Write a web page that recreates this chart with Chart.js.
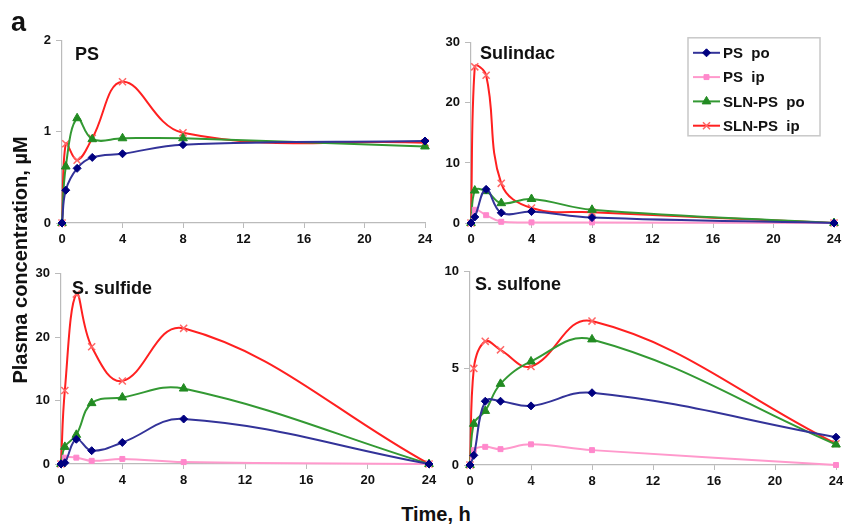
<!DOCTYPE html>
<html>
<head>
<meta charset="utf-8">
<script src="https://cdn.jsdelivr.net/npm/chart.js@4.4.1/dist/chart.umd.min.js"></script>
<style>
  body { margin: 0; background: #fff; }
  #wrap { position: relative; width: 847px; height: 524px; overflow: hidden;
          font-family: "Liberation Sans", Arial, sans-serif; color: #111; }
  #wrap canvas { position: absolute; }
  .lbl { position: absolute; font-weight: bold; white-space: nowrap; line-height: 1; }
</style>
</head>
<body>
<div id="wrap">
  <canvas id="cPS"></canvas>
  <canvas id="cSul"></canvas>
  <canvas id="cSfd"></canvas>
  <canvas id="cSfn"></canvas>
  <div class="lbl" style="left:11px;top:9px;font-size:27px">a</div>
  <div class="lbl" style="left:75px;top:45px;font-size:18px">PS</div>
  <div class="lbl" style="left:480px;top:44px;font-size:18px">Sulindac</div>
  <div class="lbl" style="left:72px;top:279px;font-size:18px">S. sulfide</div>
  <div class="lbl" style="left:475px;top:275px;font-size:18px">S. sulfone</div>
  <div class="lbl" style="left:386px;top:504px;width:100px;text-align:center;font-size:20px">Time, h</div>
  <div class="lbl" style="left:-130px;top:250px;width:300px;text-align:center;font-size:20px;transform:rotate(-90deg)">Plasma concentration, µM</div>
</div>
<script>
const hours = [0, 0.25, 1, 2, 4, 8, 24];
const xTicks = [0, 4, 8, 12, 16, 20, 24];
const seriesNames = ['PS  po', 'PS  ip', 'SLN-PS  po', 'SLN-PS  ip'];

// PS
const psPoPS    = [0, 0.36, 0.60, 0.72, 0.76, 0.86, 0.90];
const psIpPS    = [0, null, null, null, null, null, null];
const slnPoPS   = [0, 0.62, 1.15, 0.92, 0.93, 0.93, 0.84];
const slnIpPS   = [0, 0.87, 0.69, 0.93, 1.55, 0.99, 0.88];
// Sulindac
const psPoSul   = [0, 1.0, 5.6, 1.7, 1.9, 0.9, 0];
const psIpSul   = [0, 2.2, 1.3, 0.2, 0.1, 0.1, 0];
const slnPoSul  = [0, 5.4, 5.3, 3.3, 4.0, 2.2, 0];
const slnIpSul  = [0, 26.0, 24.6, 6.6, 2.5, 1.8, 0];
// S. sulfide
const psPoSfd   = [0, 0.2, 3.9, 2.1, 3.4, 7.1, 0];
const psIpSfd   = [0, 1.0, 1.0, 0.5, 0.8, 0.3, 0];
const slnPoSfd  = [0, 2.7, 4.6, 9.6, 10.5, 11.9, 0];
const slnIpSfd  = [0, 11.6, 26.8, 18.5, 13.1, 21.4, 0];
// S. sulfone
const psPoSfn   = [0, 0.5, 3.3, 3.3, 3.06, 3.74, 1.44];
const psIpSfn   = [0, 0.77, 0.94, 0.82, 1.07, 0.77, 0];
const slnPoSfn  = [0, 2.13, 2.8, 4.2, 5.36, 6.5, 1.06];
const slnIpSfn  = [0, 5.0, 6.4, 5.96, 5.1, 7.45, 1.1];

const styles = [
  { line: '#333399', fill: '#000080', point: 'rectRot',  r: 4 },
  { line: '#ff99cc', fill: '#ff88cc', point: 'rect',     r: 3.5 },
  { line: '#339933', fill: '#228b22', point: 'triangle', r: 5 },
  { line: '#ff2020', fill: '#ff6666', point: 'crossRot', r: 5 }
];

const YW = 40, XH = 30, PT = 10, PR = 14;
const TICK_FONT = { family: '"Liberation Sans", Arial, sans-serif', size: 13, weight: 'bold' };

// legend box drawn inside the Sulindac panel
const boxLegend = {
  id: 'boxLegend',
  afterDraw(chart, args, opts) {
    if (!opts.show) return;
    const ctx = chart.ctx;
    const ca = chart.chartArea;
    const bw = 132, bh = 98;
    const bx = ca.right - 14 - bw, by = ca.top - 5;
    ctx.save();
    ctx.fillStyle = '#fff';
    ctx.fillRect(bx, by, bw, bh);
    ctx.strokeStyle = '#c8c8c8';
    ctx.lineWidth = 1.5;
    ctx.strokeRect(bx, by, bw, bh);
    ctx.font = 'bold 15px "Liberation Sans", Arial, sans-serif';
    ctx.textBaseline = 'middle';
    chart.data.datasets.forEach((ds, i) => {
      const y = by + 15 + i * 24.3;
      ctx.strokeStyle = ds.borderColor;
      ctx.lineWidth = 2;
      ctx.beginPath();
      ctx.moveTo(bx + 5, y);
      ctx.lineTo(bx + 32, y);
      ctx.stroke();
      ctx.fillStyle = ds.pointBackgroundColor;
      ctx.strokeStyle = ds.pointBorderColor;
      ctx.lineWidth = ds.pointBorderWidth;
      Chart.helpers.drawPoint(ctx, { pointStyle: ds.pointStyle, radius: ds.pointRadius, rotation: 0, borderWidth: ds.pointBorderWidth }, bx + 18.5, y);
      ctx.fillStyle = '#111';
      ctx.fillText(ds.label, bx + 35, y + 1);
    });
    ctx.restore();
  }
};

function makePanel(id, rect, yMax, yStep, values, withLegend) {
  const cv = document.getElementById(id);
  cv.width = rect.r - rect.l + YW + PR;
  cv.height = rect.b - rect.t + PT + XH;
  cv.style.left = (rect.l - YW) + 'px';
  cv.style.top = (rect.t - PT) + 'px';

  const datasets = values.map((vals, i) => {
    const s = styles[i];
    return {
      label: seriesNames[i],
      data: hours.map((h, k) => ({ x: h, y: vals[k] })),
      borderColor: s.line,
      borderWidth: 2,
      pointBackgroundColor: s.fill,
      pointBorderColor: i === 3 ? s.fill : s.fill,
      pointBorderWidth: i === 3 ? 1.5 : 1,
      pointStyle: s.point,
      pointRadius: s.r,
      tension: 0.4,
      clip: false,
      spanGaps: false
    };
  });
  // draw red first? keep reference order: later series on top
  return new Chart(cv, {
    type: 'line',
    data: { datasets },
    plugins: [boxLegend],
    options: {
      responsive: false,
      animation: false,
      layout: { padding: { top: PT, right: PR, left: 0, bottom: 0 } },
      plugins: {
        legend: { display: false },
        tooltip: { enabled: false },
        boxLegend: { show: !!withLegend }
      },
      scales: {
        x: {
          type: 'linear', min: 0, max: 24,
          afterBuildTicks: s => { s.ticks = xTicks.map(v => ({ value: v })); },
          afterFit: s => { s.height = XH; },
          grid: { drawOnChartArea: false, tickLength: 5, color: '#bbb' },
          border: { color: '#bbb', width: 1.2 },
          ticks: { color: '#111', font: TICK_FONT, padding: 4, maxRotation: 0 }
        },
        y: {
          type: 'linear', min: 0, max: yMax,
          ticks: { stepSize: yStep, color: '#111', font: TICK_FONT, padding: 5 },
          afterFit: s => { s.width = YW; },
          grid: { drawOnChartArea: false, tickLength: 6, color: '#bbb' },
          border: { color: '#bbb', width: 1.2 }
        }
      }
    }
  });
}

makePanel('cPS',  { l: 62,  t: 38,  r: 425, b: 223 }, 2, 1,  [psPoPS, psIpPS, slnPoPS, slnIpPS]);
makePanel('cSul', { l: 471, t: 40,  r: 834, b: 223 }, 30, 10, [psPoSul, psIpSul, slnPoSul, slnIpSul], true);
makePanel('cSfd', { l: 61,  t: 271, r: 429, b: 464 }, 30, 10, [psPoSfd, psIpSfd, slnPoSfd, slnIpSfd]);
makePanel('cSfn', { l: 470, t: 269, r: 836, b: 465 }, 10, 5,  [psPoSfn, psIpSfn, slnPoSfn, slnIpSfn]);
</script>
</body>
</html>
